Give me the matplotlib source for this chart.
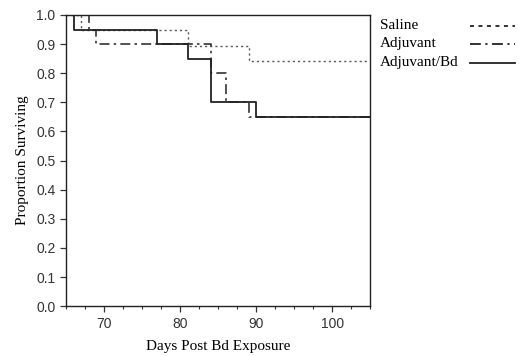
import numpy as np
import matplotlib.pyplot as plt
from matplotlib.lines import Line2D
from matplotlib.ticker import MultipleLocator

# Kaplan-Meier step data (day, proportion after that day)
saline_days = [65, 67, 81, 89, 105]
saline_surv = [1.0, 0.947, 0.895, 0.842, 0.842]

adjuvant_days = [65, 68, 69, 84, 86, 89, 105]
adjuvant_surv = [1.0, 0.95, 0.9, 0.8, 0.7, 0.65, 0.65]

adjbd_days = [65, 66, 77, 81, 84, 90, 105]
adjbd_surv = [1.0, 0.95, 0.9, 0.85, 0.7, 0.65, 0.65]

labels = ['Saline', 'Adjuvant', 'Adjuvant/Bd']

serif = 'Liberation Serif'
sans = 'Liberation Sans'

fig = plt.figure(figsize=(5.2, 3.56), dpi=100)
ax = fig.add_axes([0.127, 0.14, 0.585, 0.818])

ls_sal = (0, (1.5, 2.2))
ls_adj = (0, (6, 2.5, 1.5, 2.5))
ax.step(saline_days, saline_surv, where='post', color='#555555', lw=1.0, linestyle=ls_sal)
ax.step(adjuvant_days, adjuvant_surv, where='post', color='#333333', lw=1.2, linestyle=ls_adj)
ax.step(adjbd_days, adjbd_surv, where='post', color='#222222', lw=1.3)

ax.set_xlim(65, 105)
ax.set_ylim(0, 1.0)
ax.xaxis.set_minor_locator(MultipleLocator(2.5))
ax.tick_params(direction='out', length=4, width=0.9, labelsize=10, colors='#333333')
ax.tick_params(which='minor', direction='out', length=2.5, width=0.8, colors='#333333')
ax.set_xticks([70, 80, 90, 100])
ax.set_xticklabels(['70', '80', '90', '100'], family=sans)
ax.set_yticks(np.arange(0, 1.01, 0.1))
ax.set_yticklabels(['%.1f' % v for v in np.arange(0, 1.01, 0.1)], family=sans)
for s in ax.spines.values():
    s.set_linewidth(1.0)
    s.set_color('#222222')

ax.set_xlabel('Days Post Bd Exposure', family=serif, fontsize=11, labelpad=7)
ax.set_ylabel('Proportion Surviving', family=serif, fontsize=11, labelpad=5)

# legend outside the box: text left-aligned, line samples on the right
leg_styles = [(0, (2.2, 2.5)), (0, (6, 2.5, 1.2, 2.5)), '-']
leg_y = [0.928, 0.877, 0.824]
for lab, st, yy in zip(labels, leg_styles, leg_y):
    fig.text(0.731, yy, lab, family=serif, fontsize=11, va='center', ha='left')
    fig.add_artist(Line2D([0.904, 0.99], [yy, yy], transform=fig.transFigure,
                          color='#222222', lw=1.3, linestyle=st))

plt.savefig('out.png', dpi=100)
